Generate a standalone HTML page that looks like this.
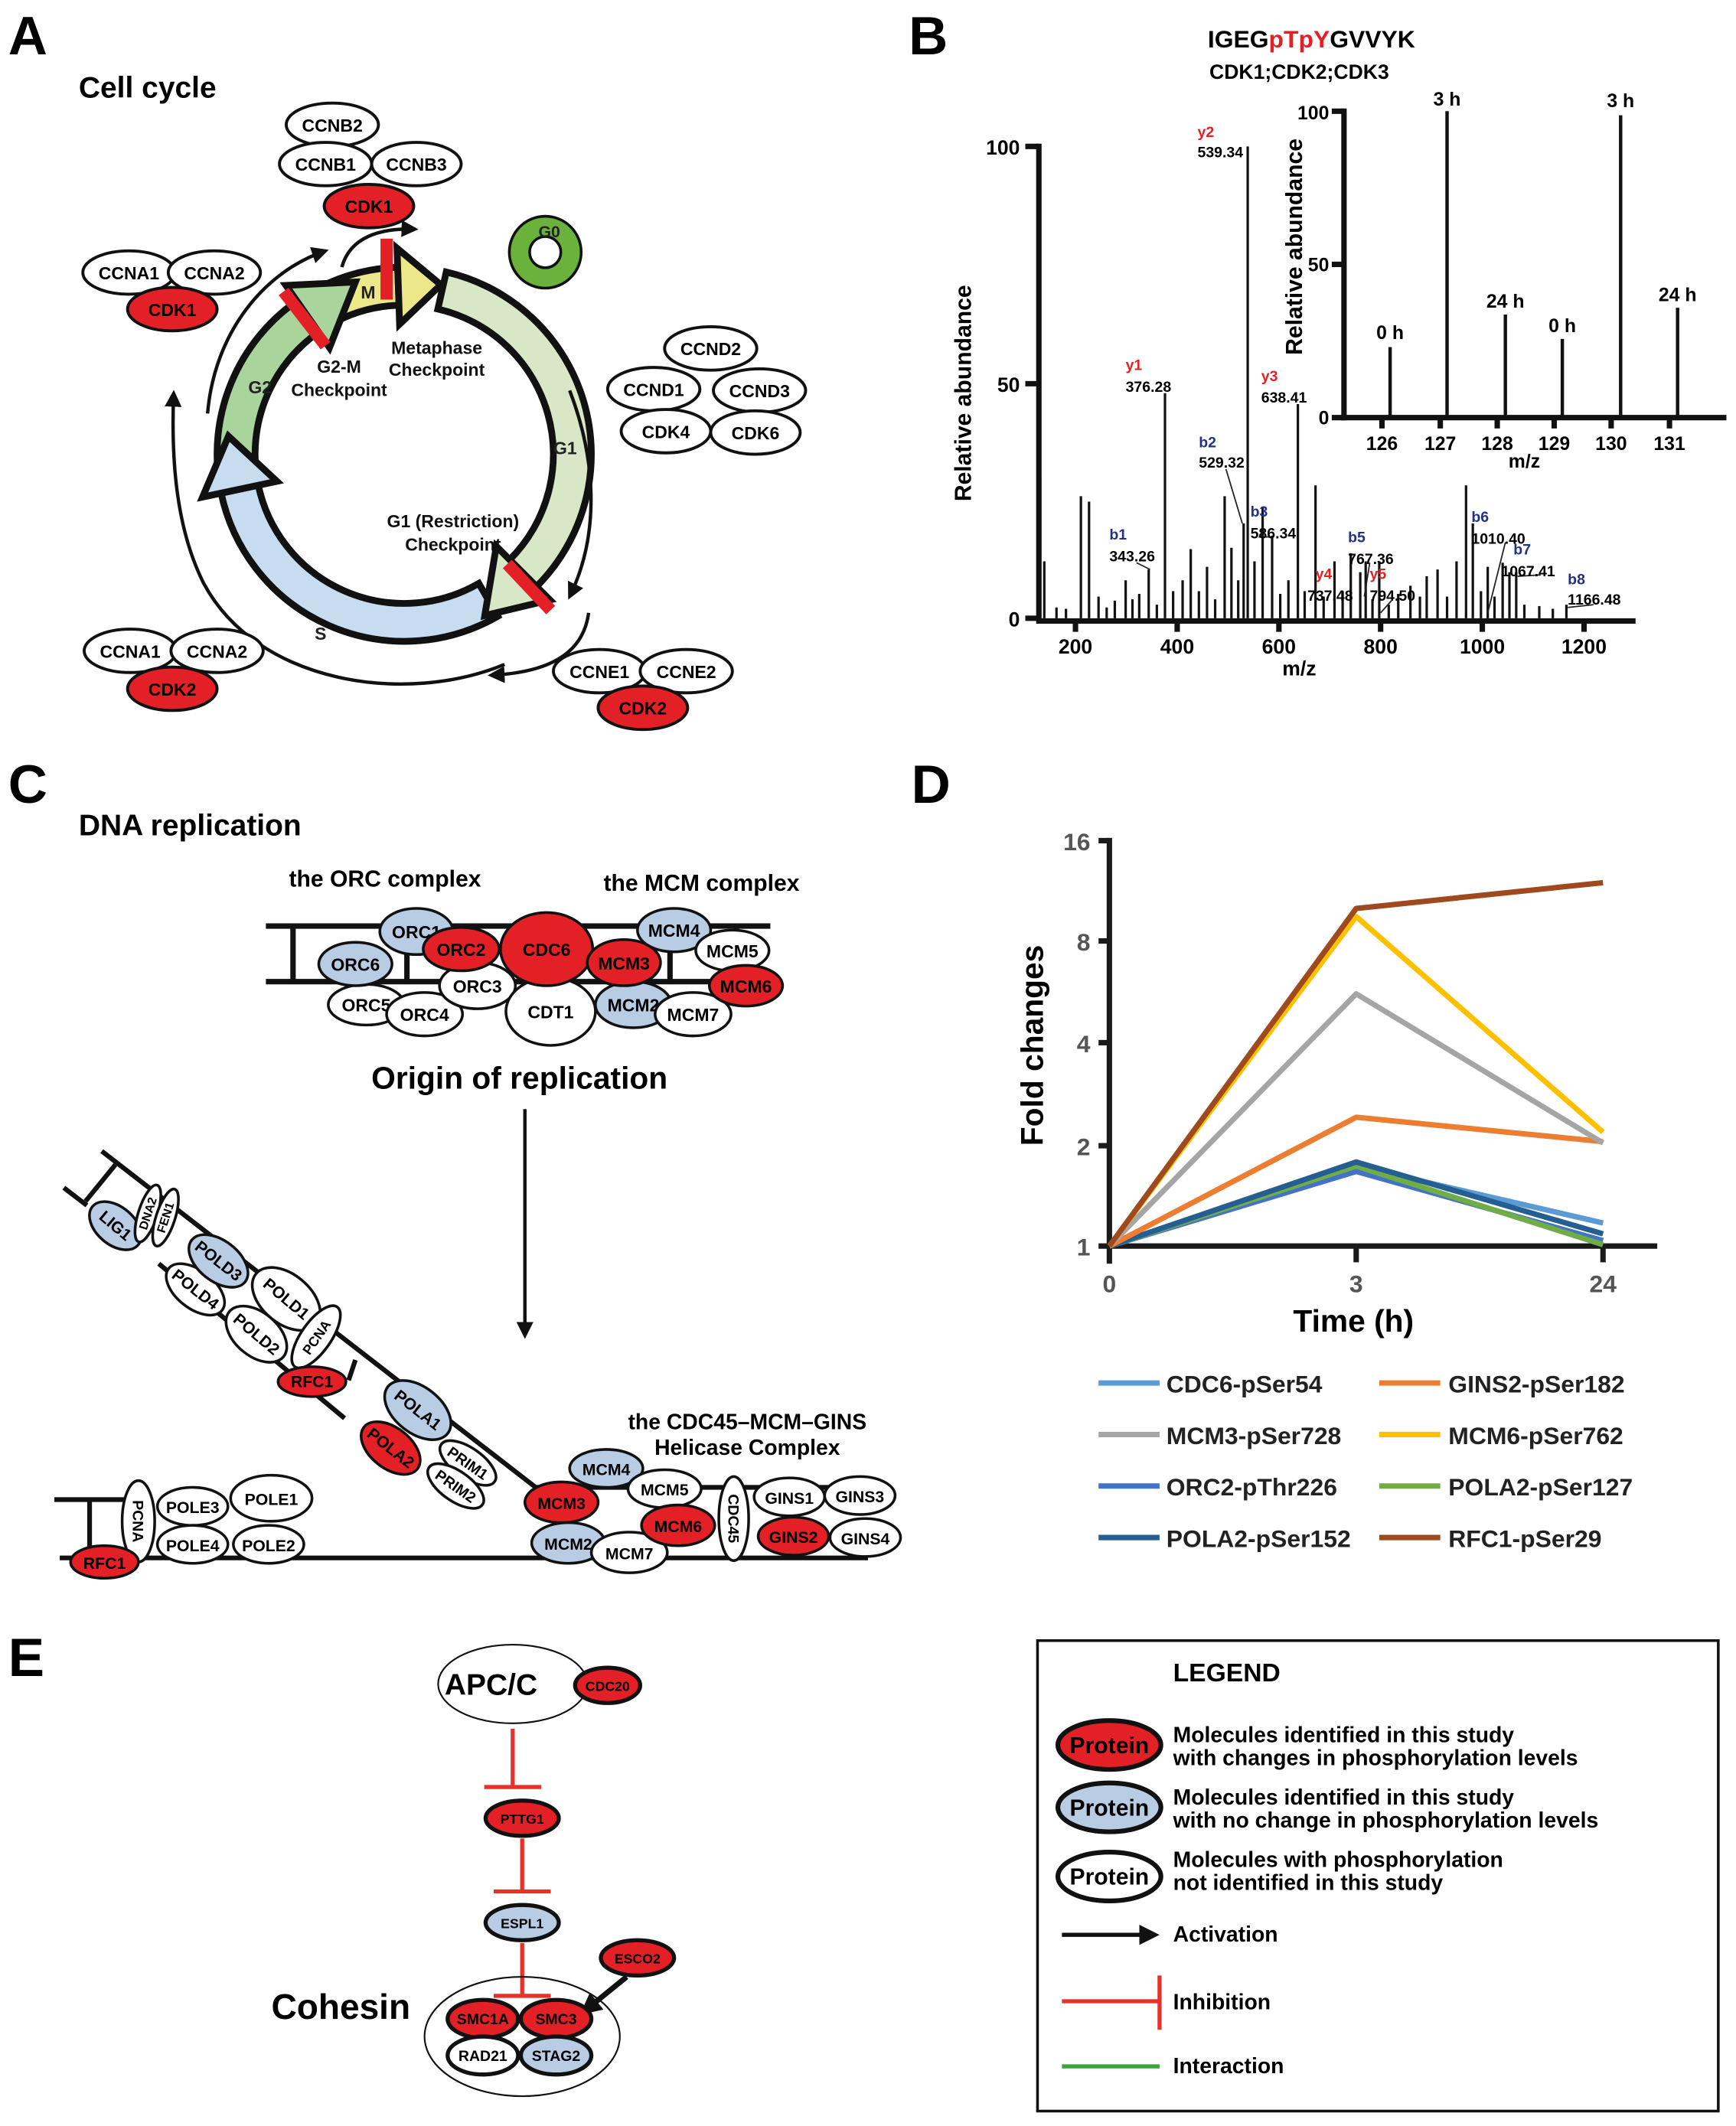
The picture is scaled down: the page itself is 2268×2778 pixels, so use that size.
<!DOCTYPE html>
<html><head><meta charset="utf-8"><style>
html,body{margin:0;padding:0;background:#fff}
svg{display:block}
text{font-family:"Liberation Sans",Arial,sans-serif;font-weight:bold}
</style></head><body>
<svg xmlns="http://www.w3.org/2000/svg" width="2268" height="2778" viewBox="0 0 1280 1568">
<defs>
<marker id="ah" viewBox="0 0 10 10" refX="8" refY="5" markerWidth="5" markerHeight="5" orient="auto"><path d="M0,0 L10,5 L0,10 z" fill="#111"/></marker>
<marker id="ah2" viewBox="0 0 10 10" refX="8" refY="5" markerWidth="4" markerHeight="4" orient="auto"><path d="M0,0 L10,5 L0,10 z" fill="#111"/></marker>
</defs>
<rect width="1280" height="1568" fill="#fff"/>

<!-- ============ PANEL A ============ -->
<text x="6" y="40" font-size="40">A</text>
<text x="58" y="72" font-size="22">Cell cycle</text>

<!-- G0 -->
<circle cx="402" cy="186" r="19" fill="none" stroke="#111" stroke-width="17"/>
<circle cx="402" cy="186" r="19" fill="none" stroke="#6ab23c" stroke-width="13"/>
<text x="397" y="175" font-size="12" fill="#222" font-weight="normal">G0</text>

<g stroke="#111" stroke-width="5" stroke-linejoin="miter">
<path d="M329,200.6 A138,138 0 0 1 395.6,432.6 L375.8,412.8 A110,110 0 0 0 322.8,227.9 Z" fill="#d8e8c6"/>
<path d="M162.1,359 A138,138 0 0 1 218.8,222 L234.9,244.9 A110,110 0 0 0 189.7,354.1 Z" fill="#a9d49c"/>
<path d="M229,215.5 A138,138 0 0 1 293.2,197.1 L294.2,225.1 A110,110 0 0 0 243,239.7 Z" fill="#ece88a"/>
<path d="M367,454.5 A138,138 0 0 1 163,363.7 L190.4,357.9 A110,110 0 0 0 353,430.3 Z" fill="#c8dcf0"/>
<path d="M149.3,366.6 L204.1,355 L168.4,321.7 Z" fill="#c8dcf0"/>
<path d="M210.8,210.5 L242.9,256.4 L262,208 Z" fill="#a9d49c"/>
<path d="M292.7,183.1 L294.6,239.1 L325,210 Z" fill="#ece88a"/>
<path d="M405.5,442.5 L365.9,402.9 L357.4,454 Z" fill="#d8e8c6"/>
</g>
<line x1="209" y1="215" x2="240" y2="255" stroke="#e42027" stroke-width="9"/>
<line x1="285" y1="176" x2="285" y2="221" stroke="#e42027" stroke-width="9"/>
<line x1="374" y1="416" x2="406" y2="450" stroke="#e42027" stroke-width="9"/>
<g font-size="13" fill="#222" font-weight="normal">
<text x="183" y="290">G2</text>
<text x="266" y="220">M</text>
<text x="408" y="335">G1</text>
<text x="232" y="472">S</text>
</g>
<g font-size="13" fill="#111" text-anchor="middle">
<text x="250" y="275">G2-M</text><text x="250" y="292">Checkpoint</text>
<text x="322" y="261">Metaphase</text><text x="322" y="277">Checkpoint</text>
<text x="334" y="389">G1 (Restriction)</text><text x="334" y="406">Checkpoint</text>
</g>
<g fill="none" stroke="#111" stroke-width="2.5">
<path d="M372,490 C300,520 190,505 150,430 C130,390 126,340 128,290" marker-end="url(#ah)"/>
<path d="M153,305 C158,245 195,200 240,185" marker-end="url(#ah)"/>
<path d="M252,197 C258,175 280,168 306,169" marker-end="url(#ah)"/>
<path d="M420,288 C440,340 442,395 420,440" marker-end="url(#ah)"/>
<path d="M434,452 C430,482 405,496 362,498" marker-end="url(#ah)"/>
</g>

<g font-size="13" text-anchor="middle" stroke-width="2.2">
<ellipse cx="245" cy="92" rx="34" ry="16" fill="#fff" stroke="#111"/><text x="245" y="97">CCNB2</text>
<ellipse cx="240" cy="121" rx="34" ry="16" fill="#fff" stroke="#111"/><text x="240" y="126">CCNB1</text>
<ellipse cx="307" cy="121" rx="33" ry="16" fill="#fff" stroke="#111"/><text x="307" y="126">CCNB3</text>
<ellipse cx="272" cy="152" rx="33" ry="16" fill="#e42027" stroke="#111"/><text x="272" y="157">CDK1</text>
<ellipse cx="95" cy="201" rx="34" ry="16" fill="#fff" stroke="#111"/><text x="95" y="206">CCNA1</text>
<ellipse cx="158" cy="201" rx="34" ry="16" fill="#fff" stroke="#111"/><text x="158" y="206">CCNA2</text>
<ellipse cx="127" cy="228" rx="33" ry="16" fill="#e42027" stroke="#111"/><text x="127" y="233">CDK1</text>
<ellipse cx="524" cy="257" rx="34" ry="16" fill="#fff" stroke="#111"/><text x="524" y="262">CCND2</text>
<ellipse cx="482" cy="287" rx="34" ry="16" fill="#fff" stroke="#111"/><text x="482" y="292">CCND1</text>
<ellipse cx="560" cy="288" rx="34" ry="16" fill="#fff" stroke="#111"/><text x="560" y="293">CCND3</text>
<ellipse cx="491" cy="318" rx="33" ry="16" fill="#fff" stroke="#111"/><text x="491" y="323">CDK4</text>
<ellipse cx="557" cy="319" rx="33" ry="16" fill="#fff" stroke="#111"/><text x="557" y="324">CDK6</text>
<ellipse cx="96" cy="480" rx="34" ry="16" fill="#fff" stroke="#111"/><text x="96" y="485">CCNA1</text>
<ellipse cx="160" cy="480" rx="34" ry="16" fill="#fff" stroke="#111"/><text x="160" y="485">CCNA2</text>
<ellipse cx="127" cy="508" rx="33" ry="16" fill="#e42027" stroke="#111"/><text x="127" y="513">CDK2</text>
<ellipse cx="442" cy="495" rx="34" ry="16" fill="#fff" stroke="#111"/><text x="442" y="500">CCNE1</text>
<ellipse cx="506" cy="495" rx="34" ry="16" fill="#fff" stroke="#111"/><text x="506" y="500">CCNE2</text>
<ellipse cx="474" cy="522" rx="33" ry="16" fill="#e42027" stroke="#111"/><text x="474" y="527">CDK2</text>
</g>

<!-- ============ PANEL B ============ -->
<text x="670" y="40" font-size="40">B</text>
<text x="967" y="35" font-size="18" text-anchor="middle">IGEG<tspan fill="#e42027">pTpY</tspan>GVVYK</text>
<text x="958" y="58" font-size="15" text-anchor="middle">CDK1;CDK2;CDK3</text>

<g stroke="#111" stroke-width="4" fill="none">
<line x1="766" y1="106" x2="766" y2="458"/>
<line x1="764" y1="458" x2="1206" y2="458"/>
<line x1="756" y1="108" x2="766" y2="108"/>
<line x1="756" y1="283" x2="766" y2="283"/>
<line x1="756" y1="456" x2="766" y2="456"/>
<line x1="793" y1="458" x2="793" y2="466"/><line x1="868" y1="458" x2="868" y2="466"/><line x1="943" y1="458" x2="943" y2="466"/><line x1="1018" y1="458" x2="1018" y2="466"/><line x1="1093" y1="458" x2="1093" y2="466"/><line x1="1168" y1="458" x2="1168" y2="466"/>
</g>
<g font-size="15" text-anchor="end">
<text x="752" y="114">100</text><text x="752" y="289">50</text><text x="752" y="462">0</text>
</g>
<g font-size="15" text-anchor="middle">
<text x="793" y="482">200</text><text x="868" y="482">400</text><text x="943" y="482">600</text><text x="1018" y="482">800</text><text x="1093" y="482">1000</text><text x="1168" y="482">1200</text>
<text x="958" y="498">m/z</text>
</g>
<text x="0" y="0" font-size="17" text-anchor="middle" transform="translate(716,290) rotate(-90)">Relative abundance</text>

<g stroke="#111" stroke-width="1.8">
<line x1="767" y1="456" x2="767" y2="352"/><line x1="770" y1="456" x2="770" y2="414"/>
<line x1="779" y1="456" x2="779" y2="448"/><line x1="786" y1="456" x2="786" y2="449"/>
<line x1="797" y1="456" x2="797" y2="366"/><line x1="803" y1="456" x2="803" y2="370"/>
<line x1="810" y1="456" x2="810" y2="440"/><line x1="816" y1="456" x2="816" y2="448"/>
<line x1="822" y1="456" x2="822" y2="443"/><line x1="830" y1="456" x2="830" y2="428"/>
<line x1="835" y1="456" x2="835" y2="442"/><line x1="840" y1="456" x2="840" y2="438"/>
<line x1="847" y1="456" x2="847" y2="420"/><line x1="853" y1="456" x2="853" y2="446"/>
<line x1="859" y1="456" x2="859" y2="290"/><line x1="865" y1="456" x2="865" y2="436"/>
<line x1="872" y1="456" x2="872" y2="428"/><line x1="878" y1="456" x2="878" y2="405"/>
<line x1="884" y1="456" x2="884" y2="436"/><line x1="890" y1="456" x2="890" y2="418"/>
<line x1="896" y1="456" x2="896" y2="442"/><line x1="903" y1="456" x2="903" y2="366"/>
<line x1="908" y1="456" x2="908" y2="404"/><line x1="913" y1="456" x2="913" y2="428"/>
<line x1="917" y1="456" x2="917" y2="386"/><line x1="920" y1="456" x2="920" y2="108"/>
<line x1="925" y1="456" x2="925" y2="414"/><line x1="931" y1="456" x2="931" y2="374"/>
<line x1="938" y1="456" x2="938" y2="395"/><line x1="944" y1="456" x2="944" y2="438"/>
<line x1="950" y1="456" x2="950" y2="428"/><line x1="957" y1="456" x2="957" y2="298"/>
<line x1="962" y1="456" x2="962" y2="436"/><line x1="970" y1="456" x2="970" y2="358"/>
<line x1="976" y1="456" x2="976" y2="440"/><line x1="984" y1="456" x2="984" y2="414"/>
<line x1="990" y1="456" x2="990" y2="436"/><line x1="996" y1="456" x2="996" y2="408"/>
<line x1="1003" y1="456" x2="1003" y2="422"/><line x1="1007" y1="456" x2="1007" y2="414"/>
<line x1="1012" y1="456" x2="1012" y2="442"/><line x1="1017" y1="456" x2="1017" y2="414"/>
<line x1="1024" y1="456" x2="1024" y2="446"/><line x1="1031" y1="456" x2="1031" y2="438"/>
<line x1="1040" y1="456" x2="1040" y2="432"/><line x1="1047" y1="456" x2="1047" y2="440"/>
<line x1="1052" y1="456" x2="1052" y2="425"/><line x1="1060" y1="456" x2="1060" y2="420"/>
<line x1="1067" y1="456" x2="1067" y2="440"/><line x1="1074" y1="456" x2="1074" y2="414"/>
<line x1="1081" y1="456" x2="1081" y2="358"/><line x1="1086" y1="456" x2="1086" y2="386"/>
<line x1="1092" y1="456" x2="1092" y2="436"/><line x1="1097" y1="456" x2="1097" y2="418"/>
<line x1="1102" y1="456" x2="1102" y2="440"/><line x1="1108" y1="456" x2="1108" y2="415"/>
<line x1="1113" y1="456" x2="1113" y2="422"/><line x1="1118" y1="456" x2="1118" y2="422"/>
<line x1="1124" y1="456" x2="1124" y2="446"/><line x1="1135" y1="456" x2="1135" y2="447"/>
<line x1="1145" y1="456" x2="1145" y2="449"/><line x1="1155" y1="456" x2="1155" y2="446"/>
</g>
<g stroke="#222" stroke-width="1" fill="none">
<line x1="838" y1="415" x2="848" y2="420"/><line x1="904" y1="346" x2="916" y2="386"/>
<line x1="928" y1="396" x2="938" y2="396"/><line x1="1010" y1="415" x2="1006" y2="440"/>
<line x1="1026" y1="443" x2="1018" y2="452"/><line x1="1110" y1="400" x2="1097" y2="452"/>
<line x1="1136" y1="424" x2="1119" y2="425"/><line x1="1175" y1="446" x2="1156" y2="448"/>
</g>
<g font-size="11">
<text x="883" y="101" fill="#e42027">y2</text><text x="883" y="116">539.34</text>
<text x="830" y="273" fill="#e42027">y1</text><text x="830" y="289">376.28</text>
<text x="930" y="281" fill="#e42027">y3</text><text x="930" y="297">638.41</text>
<text x="884" y="330" fill="#22308a">b2</text><text x="884" y="345">529.32</text>
<text x="922" y="381" fill="#22308a">b3</text><text x="922" y="397">586.34</text>
<text x="818" y="398" fill="#22308a">b1</text><text x="818" y="414">343.26</text>
<text x="994" y="400" fill="#22308a">b5</text><text x="994" y="416">767.36</text>
<text x="970" y="427" fill="#e42027">y4</text><text x="964" y="443">737.48</text>
<text x="1010" y="427" fill="#e42027">y5</text><text x="1010" y="443">794.50</text>
<text x="1085" y="385" fill="#22308a">b6</text><text x="1085" y="401">1010.40</text>
<text x="1116" y="409" fill="#22308a">b7</text><text x="1107" y="425">1067.41</text>
<text x="1156" y="431" fill="#22308a">b8</text><text x="1156" y="446">1166.48</text>
</g>

<g stroke="#111" stroke-width="4">
<line x1="991" y1="80" x2="991" y2="310"/>
<line x1="989" y1="308" x2="1273" y2="308"/>
<line x1="982" y1="82" x2="991" y2="82"/><line x1="982" y1="195" x2="991" y2="195"/><line x1="982" y1="308" x2="991" y2="308"/>
<line x1="1019" y1="308" x2="1019" y2="316"/><line x1="1062" y1="308" x2="1062" y2="316"/><line x1="1104" y1="308" x2="1104" y2="316"/><line x1="1146" y1="308" x2="1146" y2="316"/><line x1="1188" y1="308" x2="1188" y2="316"/><line x1="1231" y1="308" x2="1231" y2="316"/>
</g>
<g stroke="#111" stroke-width="2.5">
<line x1="1025" y1="308" x2="1025" y2="256"/>
<line x1="1067" y1="308" x2="1067" y2="82"/>
<line x1="1110" y1="308" x2="1110" y2="232"/>
<line x1="1152" y1="308" x2="1152" y2="250"/>
<line x1="1195" y1="308" x2="1195" y2="85"/>
<line x1="1237" y1="308" x2="1237" y2="227"/>
</g>
<g font-size="14" text-anchor="middle">
<text x="1025" y="250">0 h</text><text x="1067" y="78">3 h</text><text x="1110" y="227">24 h</text>
<text x="1152" y="245">0 h</text><text x="1195" y="79">3 h</text><text x="1237" y="222">24 h</text>
<text x="1019" y="332">126</text><text x="1062" y="332">127</text><text x="1104" y="332">128</text><text x="1146" y="332">129</text><text x="1188" y="332">130</text><text x="1231" y="332">131</text>
<text x="1124" y="345">m/z</text>
</g>
<g font-size="14" text-anchor="end"><text x="980" y="88">100</text><text x="980" y="200">50</text><text x="980" y="313">0</text></g>
<text x="0" y="0" font-size="17" text-anchor="middle" transform="translate(960,182) rotate(-90)">Relative abundance</text>

<!-- ============ PANEL C ============ -->
<text x="6" y="592" font-size="40">C</text>
<text x="58" y="616" font-size="22">DNA replication</text>
<text x="213" y="654" font-size="17">the ORC complex</text>
<text x="445" y="657" font-size="17">the MCM complex</text>

<g stroke="#111" stroke-width="4">
<line x1="196" y1="683" x2="568" y2="683"/>
<line x1="196" y1="724" x2="568" y2="724"/>
<line x1="216" y1="683" x2="216" y2="724"/>
<line x1="300" y1="683" x2="300" y2="724"/>
<line x1="357" y1="710" x2="357" y2="724"/>
<line x1="453" y1="700" x2="453" y2="724"/>
<line x1="494" y1="683" x2="494" y2="724"/>
<line x1="543" y1="683" x2="543" y2="724"/>
</g>
<g font-size="13" text-anchor="middle" stroke-width="2">
<ellipse cx="270" cy="741" rx="28" ry="15" fill="#fff" stroke="#111"/><text x="270" y="746">ORC5</text>
<ellipse cx="313" cy="748" rx="28" ry="16" fill="#fff" stroke="#111"/><text x="313" y="753">ORC4</text>
<ellipse cx="262" cy="711" rx="27" ry="16" fill="#b8cce4" stroke="#111"/><text x="262" y="716">ORC6</text>
<ellipse cx="307" cy="687" rx="27" ry="17" fill="#b8cce4" stroke="#111"/><text x="307" y="692">ORC1</text>
<ellipse cx="352" cy="727" rx="28" ry="17" fill="#fff" stroke="#111"/><text x="352" y="732">ORC3</text>
<ellipse cx="340" cy="700" rx="28" ry="16" fill="#e42027" stroke="#111"/><text x="340" y="705">ORC2</text>
<ellipse cx="406" cy="746" rx="33" ry="25" fill="#fff" stroke="#111"/><text x="406" y="751">CDT1</text>
<ellipse cx="403" cy="700" rx="34" ry="27" fill="#e42027" stroke="#111"/><text x="403" y="705">CDC6</text>
<ellipse cx="467" cy="741" rx="28" ry="17" fill="#b8cce4" stroke="#111"/><text x="467" y="746">MCM2</text>
<ellipse cx="460" cy="710" rx="27" ry="17" fill="#e42027" stroke="#111"/><text x="460" y="715">MCM3</text>
<ellipse cx="497" cy="686" rx="27" ry="16" fill="#b8cce4" stroke="#111"/><text x="497" y="691">MCM4</text>
<ellipse cx="511" cy="748" rx="28" ry="16" fill="#fff" stroke="#111"/><text x="511" y="753">MCM7</text>
<ellipse cx="540" cy="701" rx="27" ry="15" fill="#fff" stroke="#111"/><text x="540" y="706">MCM5</text>
<ellipse cx="550" cy="727" rx="27" ry="15" fill="#e42027" stroke="#111"/><text x="550" y="732">MCM6</text>
</g>
<text x="383" y="803" font-size="23" text-anchor="middle">Origin of replication</text>
<line x1="387" y1="818" x2="387" y2="985" stroke="#111" stroke-width="2.5" marker-end="url(#ah)"/>

<g stroke="#111" stroke-width="3.5" fill="none">
<polyline points="75,849 395,1097 640,1097"/>
<line x1="47" y1="876" x2="64" y2="889"/>
<line x1="85" y1="859" x2="63" y2="886"/>
<line x1="117" y1="932" x2="254" y2="1046"/>
<line x1="262" y1="1003" x2="257" y2="1018"/>
<line x1="40" y1="1106" x2="98" y2="1106"/>
<line x1="44" y1="1149" x2="640" y2="1149"/>
<line x1="66" y1="1106" x2="66" y2="1145"/>
</g>
<g font-size="12" text-anchor="middle" stroke-width="2">
<g transform="translate(85,904) rotate(40)"><ellipse rx="22" ry="14" fill="#b8cce4" stroke="#111"/><text y="4">LIG1</text></g>
<g transform="translate(109,895) rotate(-72)"><ellipse rx="22" ry="7" fill="#fff" stroke="#111"/><text y="3" font-size="9">DNA2</text></g>
<g transform="translate(122,898) rotate(-72)"><ellipse rx="22" ry="7" fill="#fff" stroke="#111"/><text y="3" font-size="9">FEN1</text></g>
<g transform="translate(144,951) rotate(38)"><ellipse rx="25" ry="14" fill="#fff" stroke="#111"/><text y="4">POLD4</text></g>
<g transform="translate(161,930) rotate(38)"><ellipse rx="25" ry="15" fill="#b8cce4" stroke="#111"/><text y="4">POLD3</text></g>
<g transform="translate(211,958) rotate(40)"><ellipse rx="29" ry="18" fill="#fff" stroke="#111"/><text y="4">POLD1</text></g>
<g transform="translate(189,984) rotate(40)"><ellipse rx="26" ry="16" fill="#fff" stroke="#111"/><text y="4">POLD2</text></g>
<g transform="translate(233,986) rotate(-55)"><ellipse rx="27" ry="11" fill="#fff" stroke="#111"/><text y="4" font-size="10">PCNA</text></g>
<g transform="translate(230,1019)"><ellipse rx="25" ry="11" fill="#e42027" stroke="#111"/><text y="4">RFC1</text></g>
<g transform="translate(308,1040) rotate(38)"><ellipse rx="28" ry="17" fill="#b8cce4" stroke="#111"/><text y="4">POLA1</text></g>
<g transform="translate(288,1068) rotate(38)"><ellipse rx="25" ry="15" fill="#e42027" stroke="#111"/><text y="4">POLA2</text></g>
<g transform="translate(345,1079) rotate(35)"><ellipse rx="24" ry="11" fill="#fff" stroke="#111"/><text y="4" font-size="11">PRIM1</text></g>
<g transform="translate(336,1096) rotate(35)"><ellipse rx="24" ry="11" fill="#fff" stroke="#111"/><text y="4" font-size="11">PRIM2</text></g>
<g transform="translate(142,1111)"><ellipse rx="26" ry="14" fill="#fff" stroke="#111"/><text y="5">POLE3</text></g>
<g transform="translate(200,1105)"><ellipse rx="30" ry="17" fill="#fff" stroke="#111"/><text y="5">POLE1</text></g>
<g transform="translate(142,1139)"><ellipse rx="26" ry="14" fill="#fff" stroke="#111"/><text y="5">POLE4</text></g>
<g transform="translate(198,1139)"><ellipse rx="26" ry="14" fill="#fff" stroke="#111"/><text y="5">POLE2</text></g>
<g transform="translate(102,1122) rotate(90)"><ellipse rx="30" ry="12" fill="#fff" stroke="#111"/><text y="4" font-size="11">PCNA</text></g>
<g transform="translate(77,1152)"><ellipse rx="25" ry="12" fill="#e42027" stroke="#111"/><text y="5">RFC1</text></g>
<g transform="translate(419,1138)"><ellipse rx="27" ry="15" fill="#b8cce4" stroke="#111"/><text y="5">MCM2</text></g>
<g transform="translate(414,1108)"><ellipse rx="27" ry="15" fill="#e42027" stroke="#111"/><text y="5">MCM3</text></g>
<g transform="translate(447,1083)"><ellipse rx="27" ry="14" fill="#b8cce4" stroke="#111"/><text y="5">MCM4</text></g>
<g transform="translate(464,1145)"><ellipse rx="28" ry="15" fill="#fff" stroke="#111"/><text y="5">MCM7</text></g>
<g transform="translate(490,1098)"><ellipse rx="27" ry="14" fill="#fff" stroke="#111"/><text y="5">MCM5</text></g>
<g transform="translate(500,1125)"><ellipse rx="27" ry="15" fill="#e42027" stroke="#111"/><text y="5">MCM6</text></g>
<g transform="translate(541,1120) rotate(90)"><ellipse rx="31" ry="11" fill="#fff" stroke="#111"/><text y="4" font-size="11">CDC45</text></g>
<g transform="translate(582,1104)"><ellipse rx="26" ry="14" fill="#fff" stroke="#111"/><text y="5">GINS1</text></g>
<g transform="translate(634,1103)"><ellipse rx="26" ry="14" fill="#fff" stroke="#111"/><text y="5">GINS3</text></g>
<g transform="translate(585,1133)"><ellipse rx="26" ry="14" fill="#e42027" stroke="#111"/><text y="5">GINS2</text></g>
<g transform="translate(638,1134)"><ellipse rx="26" ry="14" fill="#fff" stroke="#111"/><text y="5">GINS4</text></g>
</g>
<text x="551" y="1054" font-size="16" text-anchor="middle">the CDC45–MCM–GINS</text>
<text x="551" y="1073" font-size="16" text-anchor="middle">Helicase Complex</text>

<!-- ============ PANEL D ============ -->
<text x="672" y="592" font-size="40">D</text>
<g stroke="#1a1a1a" stroke-width="4">
<line x1="818" y1="618" x2="818" y2="932"/>
<line x1="810" y1="919" x2="1222" y2="919"/>
<line x1="810" y1="620" x2="818" y2="620"/><line x1="810" y1="694" x2="818" y2="694"/><line x1="810" y1="769" x2="818" y2="769"/><line x1="810" y1="845" x2="818" y2="845"/>
<line x1="1000" y1="919" x2="1000" y2="931"/><line x1="1182" y1="919" x2="1182" y2="931"/>
</g>
<g font-size="18" fill="#555" text-anchor="end">
<text x="804" y="627">16</text><text x="804" y="701">8</text><text x="804" y="776">4</text><text x="804" y="852">2</text><text x="804" y="926">1</text>
</g>
<g font-size="18" fill="#555" text-anchor="middle">
<text x="818" y="953">0</text><text x="1000" y="953">3</text><text x="1182" y="953">24</text>
</g>
<text x="998" y="982" font-size="23" text-anchor="middle">Time (h)</text>
<text x="0" y="0" font-size="23" text-anchor="middle" transform="translate(769,771) rotate(-90)">Fold changes</text>
<g fill="none" stroke-width="4" stroke-linejoin="round">
<polyline points="818,919 1000,864 1182,915" stroke="#4472c4"/>
<polyline points="818,919 1000,860 1182,902" stroke="#5b9bd5"/>
<polyline points="818,919 1000,860 1182,918" stroke="#70ad47"/>
<polyline points="818,919 1000,857 1182,910" stroke="#255e91"/>
<polyline points="818,919 1000,824 1182,842" stroke="#ed7d31"/>
<polyline points="818,919 1000,733 1182,843" stroke="#a5a5a5"/>
<polyline points="818,919 1000,676 1182,835" stroke="#ffc000"/>
<polyline points="818,919 1000,670 1182,651" stroke="#9e4a1e"/>
</g>
<g stroke-width="4">
<line x1="810" y1="1020" x2="855" y2="1020" stroke="#5b9bd5"/>
<line x1="810" y1="1058" x2="855" y2="1058" stroke="#a5a5a5"/>
<line x1="810" y1="1096" x2="855" y2="1096" stroke="#4472c4"/>
<line x1="810" y1="1134" x2="855" y2="1134" stroke="#255e91"/>
<line x1="1017" y1="1020" x2="1062" y2="1020" stroke="#ed7d31"/>
<line x1="1017" y1="1058" x2="1062" y2="1058" stroke="#ffc000"/>
<line x1="1017" y1="1096" x2="1062" y2="1096" stroke="#70ad47"/>
<line x1="1017" y1="1134" x2="1062" y2="1134" stroke="#9e4a1e"/>
</g>
<g font-size="18" fill="#222">
<text x="860" y="1027">CDC6-pSer54</text>
<text x="860" y="1065">MCM3-pSer728</text>
<text x="860" y="1103">ORC2-pThr226</text>
<text x="860" y="1141">POLA2-pSer152</text>
<text x="1068" y="1027">GINS2-pSer182</text>
<text x="1068" y="1065">MCM6-pSer762</text>
<text x="1068" y="1103">POLA2-pSer127</text>
<text x="1068" y="1141">RFC1-pSer29</text>
</g>

<!-- ============ PANEL E ============ -->
<text x="6" y="1236" font-size="40">E</text>
<ellipse cx="378" cy="1242" rx="55" ry="29" fill="#fff" stroke="#111" stroke-width="1.2"/>
<text x="362" y="1250" font-size="22" text-anchor="middle" font-weight="normal">APC/C</text>
<g font-size="10" text-anchor="middle" stroke-width="3" font-weight="normal">
<ellipse cx="448" cy="1243" rx="24" ry="13" fill="#e42027" stroke="#111"/><text x="448" y="1247">CDC20</text>
<ellipse cx="385" cy="1341" rx="27" ry="13" fill="#e42027" stroke="#111"/><text x="385" y="1345">PTTG1</text>
<ellipse cx="385" cy="1418" rx="27" ry="13" fill="#b8cce4" stroke="#111"/><text x="385" y="1422">ESPL1</text>
<ellipse cx="470" cy="1444" rx="27" ry="13" fill="#e42027" stroke="#111"/><text x="470" y="1448">ESCO2</text>
</g>
<g stroke="#e8312a" stroke-width="3">
<line x1="378" y1="1275" x2="378" y2="1318"/><line x1="357" y1="1318" x2="399" y2="1318"/>
<line x1="385" y1="1356" x2="385" y2="1395"/><line x1="364" y1="1395" x2="406" y2="1395"/>
<line x1="385" y1="1433" x2="385" y2="1472"/><line x1="364" y1="1472" x2="406" y2="1472"/>
</g>
<line x1="462" y1="1458" x2="430" y2="1484" stroke="#111" stroke-width="4" marker-end="url(#ah2)"/>
<ellipse cx="385" cy="1502" rx="72" ry="44" fill="none" stroke="#111" stroke-width="1.2"/>
<g font-size="11" text-anchor="middle" stroke-width="3" font-weight="normal">
<ellipse cx="356" cy="1489" rx="26" ry="14" fill="#e42027" stroke="#111"/><text x="356" y="1493">SMC1A</text>
<ellipse cx="410" cy="1489" rx="26" ry="14" fill="#e42027" stroke="#111"/><text x="410" y="1493">SMC3</text>
<ellipse cx="356" cy="1516" rx="26" ry="14" fill="#fff" stroke="#111"/><text x="356" y="1520">RAD21</text>
<ellipse cx="410" cy="1516" rx="26" ry="14" fill="#b8cce4" stroke="#111"/><text x="410" y="1520">STAG2</text>
</g>
<text x="200" y="1489" font-size="26">Cohesin</text>

<rect x="765" y="1210" width="502" height="347" fill="none" stroke="#111" stroke-width="2"/>
<text x="865" y="1240" font-size="19">LEGEND</text>
<g font-size="17" text-anchor="middle" stroke-width="3.5" font-weight="normal">
<ellipse cx="818" cy="1287" rx="38" ry="18" fill="#e42027" stroke="#111"/><text x="818" y="1293">Protein</text>
<ellipse cx="818" cy="1333" rx="38" ry="18" fill="#b8cce4" stroke="#111"/><text x="818" y="1339">Protein</text>
<ellipse cx="818" cy="1384" rx="38" ry="18" fill="#fff" stroke="#111"/><text x="818" y="1390">Protein</text>
</g>
<g font-size="16">
<text x="865" y="1285">Molecules identified in this study</text>
<text x="865" y="1302">with changes in phosphorylation levels</text>
<text x="865" y="1331">Molecules identified in this study</text>
<text x="865" y="1348">with no change in phosphorylation levels</text>
<text x="865" y="1377">Molecules with phosphorylation</text>
<text x="865" y="1394">not identified in this study</text>
<text x="865" y="1432">Activation</text>
<text x="865" y="1482">Inhibition</text>
<text x="865" y="1529">Interaction</text>
</g>
<line x1="783" y1="1427" x2="852" y2="1427" stroke="#111" stroke-width="3" marker-end="url(#ah)"/>
<line x1="783" y1="1476" x2="855" y2="1476" stroke="#e8312a" stroke-width="3"/>
<line x1="855" y1="1457" x2="855" y2="1497" stroke="#e8312a" stroke-width="3"/>
<line x1="783" y1="1524" x2="855" y2="1524" stroke="#3aa33a" stroke-width="3"/>
</svg>
</body></html>
